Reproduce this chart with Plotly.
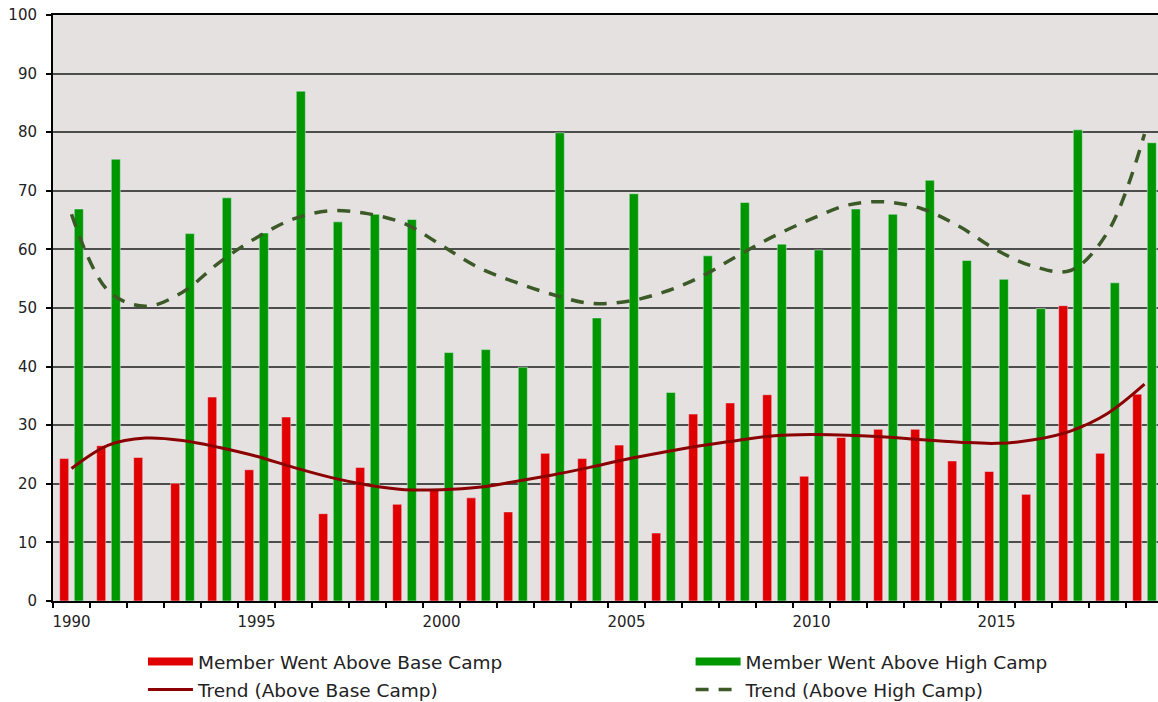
import plotly.graph_objects as go

years = list(range(1990, 2020))

# members who went above base camp
above_base = [24.3, 26.5, 24.5, 20.1, 34.8, 22.4, 31.4, 14.9, 22.8, 16.5,
              18.9, 17.6, 15.2, 25.2, 24.3, 26.6, 11.6, 31.9, 33.8, 35.2,
              21.3, 27.9, 29.3, 29.3, 23.9, 22.1, 18.2, 50.4, 25.2, 35.3]

# members who went above high camp (none recorded for 1992)
above_high = [66.9, 75.4, None, 62.7, 68.8, 62.8, 87.0, 64.7, 66.0, 65.1,
              42.4, 42.9, 39.9, 79.9, 48.3, 69.5, 35.6, 58.9, 68.0, 60.9,
              59.9, 66.9, 66.0, 71.8, 58.1, 54.9, 49.9, 80.4, 54.3, 78.2]

trend_base = [22.6, 26.6, 27.8, 27.4, 26.2, 24.7, 22.8, 21.1, 19.8, 19.0,
              19.0, 19.4, 20.4, 21.5, 22.8, 24.2, 25.4, 26.5, 27.4, 28.2,
              28.4, 28.3, 28.0, 27.5, 27.1, 26.9, 27.5, 29.0, 32.0, 37.0]

trend_high = [66.0, 52.9, 50.3, 52.7, 57.8, 62.0, 65.2, 66.6, 66.1, 64.4,
              60.7, 56.9, 54.4, 52.3, 50.8, 51.1, 52.7, 55.3, 58.9, 62.3,
              65.2, 67.6, 68.1, 66.9, 63.9, 59.9, 57.1, 56.4, 62.9, 79.7]

tick_text = [str(y) if y % 5 == 0 else "" for y in years]

RED = "#e00000"
GREEN = "#009600"
DARK_RED = "#8b0000"
DARK_GREEN = "#3b5a28"
FONT = "DejaVu Sans"

fig = go.Figure()

fig.add_trace(go.Bar(x=years, y=above_base, marker_color=RED,
                     name="Member Went Above Base Camp", showlegend=False))
fig.add_trace(go.Bar(x=years, y=above_high, marker_color=GREEN,
                     name="Member Went Above High Camp", showlegend=False))

# legend swatches drawn as wide thick lines, like the original
fig.add_trace(go.Scatter(x=[None], y=[None], mode="lines",
                         line=dict(color=RED, width=8),
                         name="Member Went Above Base Camp",
                         legend="legend", legendgroup="a"))
fig.add_trace(go.Scatter(x=[None], y=[None], mode="lines",
                         line=dict(color=GREEN, width=8),
                         name="Member Went Above High Camp",
                         legend="legend2", legendgroup="c"))

fig.add_trace(go.Scatter(x=years, y=trend_base, mode="lines",
                         line=dict(color=DARK_RED, width=3, shape="spline", smoothing=1),
                         name="Trend (Above Base Camp)",
                         legend="legend", legendgroup="b"))
fig.add_trace(go.Scatter(x=years, y=trend_high, mode="lines",
                         line=dict(color=DARK_GREEN, width=3.5, shape="spline",
                                   smoothing=1, dash="13px,10px"),
                         name="Trend (Above High Camp)",
                         legend="legend2", legendgroup="d"))

legend_style = dict(
    orientation="v",
    xanchor="left",
    y=-0.0716, yanchor="top",
    font=dict(size=18.5, color="#222222"),
    itemwidth=45,
    tracegroupgap=1,
    bgcolor="rgba(0,0,0,0)",
)

fig.update_layout(
    width=1158, height=702,
    margin=dict(l=53, r=0, t=15, b=101, autoexpand=False),
    paper_bgcolor="white",
    plot_bgcolor="#e6e1e1",
    barmode="group",
    bargap=0.21,
    bargroupgap=0.38,
    font=dict(family=FONT, size=15, color="#222222"),
    legend=dict(x=0.0814, **legend_style),
    legend2=dict(x=0.577, **legend_style),
)

fig.update_xaxes(
    type="category",
    range=[-0.5, 29.365],
    tickmode="array", tickvals=years, ticktext=tick_text,
    tickson="boundaries", tickangle=0,
    ticks="outside", ticklen=5, tickcolor="black", tickwidth=1.5,
    ticklabelstandoff=6,
    showline=True, linecolor="black", linewidth=2, mirror=True,
    showgrid=False, zeroline=False, automargin=False,
    tickfont=dict(size=15),
)

fig.update_yaxes(
    range=[0, 100], dtick=10,
    ticks="outside", ticklen=5, tickcolor="black", tickwidth=1.5,
    ticklabelstandoff=6,
    showline=True, linecolor="black", linewidth=2,
    showgrid=True, gridcolor="#4d4d4d", gridwidth=1.5,
    zeroline=False, automargin=False,
    tickfont=dict(size=15),
)

# drop the page's default body margin so the figure sits at the window corner
fig.write_html("out.html", config={"displayModeBar": False},
               post_script="document.body.style.margin = '0px';")
